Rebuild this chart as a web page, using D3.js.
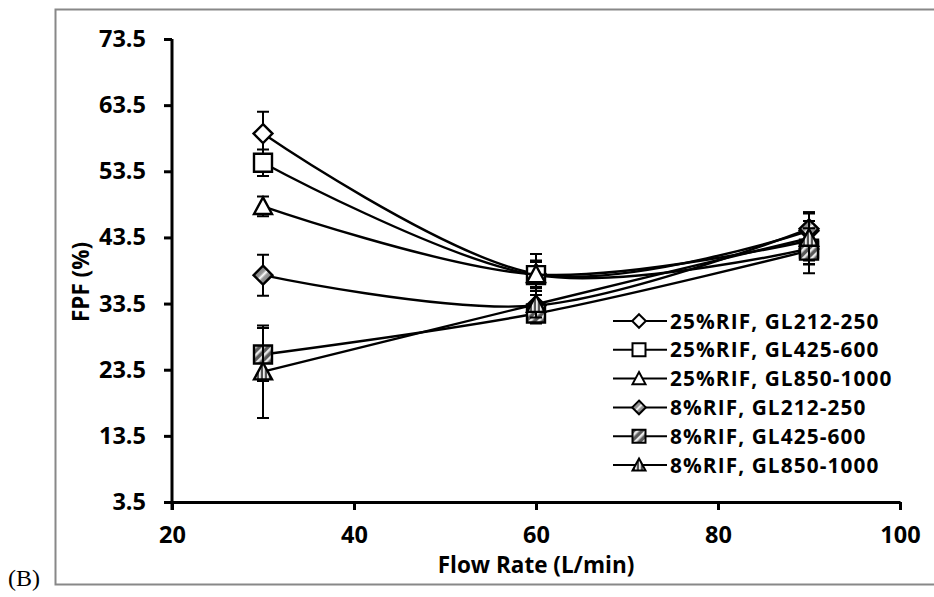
<!DOCTYPE html>
<html>
<head>
<meta charset="utf-8">
<script src="https://cdn.jsdelivr.net/npm/d3@7"></script>
<style>
  body { margin: 0; background: #fff; }
  svg { display: block; }
  .tick text { font-family: "Open Sans", sans-serif; font-weight: bold; }
</style>
</head>
<body>
<svg id="chart" width="934" height="597"></svg>
<script>
// flow rates (L/min)
var flowRates = [30, 60, 90];

var seriesNames = [
    "25%RIF, GL212-250",
    "25%RIF, GL425-600",
    "25%RIF, GL850-1000",
    "8%RIF, GL212-250",
    "8%RIF, GL425-600",
    "8%RIF, GL850-1000"
];

// FPF (%) for each series at 30, 60, 90 L/min
var fpf_25_212 = [59.2, 38.0, 44.5];
var fpf_25_425 = [54.8, 37.8, 41.8];
var fpf_25_850 = [48.2, 37.9, 43.0];
var fpf_8_212  = [37.8, 33.2, 44.8];
var fpf_8_425  = [25.8, 32.0, 41.5];
var fpf_8_850  = [23.2, 33.4, 43.4];

// error bars (+/-)
var err_25_212 = [3.3, 2.0, 2.6];
var err_25_425 = [2.0, 2.0, 2.4];
var err_25_850 = [1.5, 3.1, 3.0];
var err_8_212  = [3.1, 1.6, 2.5];
var err_8_425  = [4.0, 1.5, 3.4];
var err_8_850  = [7.0, 2.0, 3.9];

var yTicks = [3.5, 13.5, 23.5, 33.5, 43.5, 53.5, 63.5, 73.5];
var xTicks = [20, 40, 60, 80, 100];

var allValues = [fpf_25_212, fpf_25_425, fpf_25_850, fpf_8_212, fpf_8_425, fpf_8_850];
var allErrors = [err_25_212, err_25_425, err_25_850, err_8_212, err_8_425, err_8_850];
var shapes = ["diamond", "square", "triangle", "diamond", "square", "triangle"];
var fills = ["#fff", "#fff", "#fff", "url(#grad_d)", "url(#hatch_s)", "url(#stripe_t)"];

var st = seriesNames.map(function(name, i) {
    return {
        id: name,
        shape: shapes[i],
        fill: fills[i],
        values: flowRates.map(function(f, j) {
            return { flow: f, value: allValues[i][j], err: allErrors[i][j] };
        })
    };
});

var svg = d3.select("#chart");

// outer frame
svg.append("path")
    .attr("d", "M 935 9.5 H 55.5 V 584.5 H 935")
    .attr("fill", "none")
    .attr("stroke", "#888")
    .attr("stroke-width", 2);

svg.append("text")
    .attr("x", 8)
    .attr("y", 586)
    .style("font", "24px 'Liberation Serif', serif")
    .text("(B)");

// patterns for the hatched markers
var defs = svg.append("defs");
var gd = defs.append("linearGradient").attr("id", "grad_d")
    .attr("x1", "0").attr("y1", "0").attr("x2", "1").attr("y2", "1");
gd.append("stop").attr("offset", "0").attr("stop-color", "#555");
gd.append("stop").attr("offset", "0.42").attr("stop-color", "#9a9a9a");
gd.append("stop").attr("offset", "0.5").attr("stop-color", "#fff");
gd.append("stop").attr("offset", "0.58").attr("stop-color", "#9a9a9a");
gd.append("stop").attr("offset", "1").attr("stop-color", "#555");

var hs = defs.append("pattern").attr("id", "hatch_s")
    .attr("patternUnits", "userSpaceOnUse")
    .attr("width", 6).attr("height", 6)
    .attr("patternTransform", "rotate(45)");
hs.append("rect").attr("width", 6).attr("height", 6).attr("fill", "#5a5a5a");
hs.append("rect").attr("width", 2.5).attr("height", 6).attr("fill", "#e8e8e8");

var vt = defs.append("pattern").attr("id", "stripe_t")
    .attr("patternUnits", "userSpaceOnUse")
    .attr("width", 4).attr("height", 4);
vt.append("rect").attr("width", 4).attr("height", 4).attr("fill", "#555");
vt.append("rect").attr("width", 1.8).attr("height", 4).attr("fill", "#eee");

var margin = { top: 39, right: 34, bottom: 95, left: 172 },
    width = 900 - margin.left,
    height = 502 - margin.top,
    g = svg.append("g").attr("transform", "translate(" + margin.left + "," + margin.top + ")");

var x = d3.scaleLinear().domain([20, 100]).range([0, width]);
var y = d3.scaleLinear().domain([3.5, 73.5]).range([height, 0]);

var line = d3.line()
    .curve(d3.curveCatmullRom.alpha(0))
    .x(function(d) { return x(d.flow); })
    .y(function(d) { return y(d.value); });

function markerPath(shape, s) {
    var h = s / 2;
    if (shape == "diamond") {
        h = h * 1.05;
        return "M0," + (-h) + "L" + h + ",0L0," + h + "L" + (-h) + ",0Z";
    }
    if (shape == "square") {
        return "M" + (-h) + "," + (-h) + "H" + h + "V" + h + "H" + (-h) + "Z";
    }
    return "M0," + (-h) + "L" + h + "," + (h * 0.85) + "H" + (-h) + "Z";
}

// x axis
var xAxis = g.append("g")
    .attr("transform", "translate(0," + height + ")")
    .call(d3.axisBottom(x).tickValues(xTicks).tickSize(8).tickSizeOuter(0).tickPadding(16));
xAxis.select(".domain").attr("stroke-width", 3);
xAxis.selectAll(".tick line").attr("stroke-width", 3);
xAxis.selectAll(".tick text").style("font-size", "23.5px");

// y axis
var yAxis = g.append("g")
    .call(d3.axisLeft(y).tickValues(yTicks).tickFormat(d3.format(".1f"))
        .tickSize(8).tickSizeOuter(0).tickPadding(18));
yAxis.select(".domain").attr("stroke-width", 3).attr("d", "M0," + (height + 8) + "V0");
yAxis.selectAll(".tick line").attr("stroke-width", 3);
yAxis.selectAll(".tick text").style("font-size", "23.5px");

g.append("text")
    .attr("x", width / 2)
    .attr("y", height + 71)
    .attr("text-anchor", "middle")
    .style("font", "bold 22.5px 'Open Sans', sans-serif")
    .text("Flow Rate (L/min)");

g.append("text")
    .attr("transform", "translate(" + (89 - margin.left) + "," + (282 - margin.top) + ") rotate(-90)")
    .attr("text-anchor", "middle")
    .style("font", "bold 22.5px 'Open Sans', sans-serif")
    .text("FPF (%)");

var q = g.selectAll(".q")
    .data(st)
    .enter().append("g")
    .attr("class", "q");

// error bars
q.each(function(s) {
    var grp = d3.select(this);
    grp.selectAll(".err")
        .data(s.values)
        .enter().append("path")
        .attr("fill", "none")
        .attr("stroke", "#000")
        .attr("stroke-width", 2)
        .attr("d", function(d) {
            var cx = x(d.flow), y1 = y(d.value + d.err), y0 = y(d.value - d.err);
            return "M" + cx + "," + y0 + "V" + y1 +
                "M" + (cx - 6) + "," + y1 + "H" + (cx + 6) +
                "M" + (cx - 6) + "," + y0 + "H" + (cx + 6);
        });
});

q.append("path")
    .attr("fill", "none")
    .attr("stroke", "#000")
    .attr("stroke-width", 2.4)
    .attr("d", function(d) { return line(d.values); });

q.each(function(s) {
    d3.select(this).selectAll(".mk")
        .data(s.values)
        .enter().append("path")
        .attr("transform", function(d) { return "translate(" + x(d.flow) + "," + y(d.value) + ")"; })
        .attr("d", markerPath(s.shape, 18))
        .attr("fill", s.fill)
        .attr("stroke", "#000")
        .attr("stroke-width", 2.4);
});

// legend
var legend = svg.append("g").attr("transform", "translate(613,321)");
var lg = legend.selectAll(".lg")
    .data(st)
    .enter().append("g")
    .attr("transform", function(d, i) { return "translate(0," + (i * 28.8) + ")"; });
lg.append("line")
    .attr("x1", 0).attr("x2", 54)
    .attr("stroke", "#000").attr("stroke-width", 2);
lg.append("path")
    .attr("transform", "translate(26,0)")
    .attr("d", function(d) { return markerPath(d.shape, 13); })
    .attr("fill", function(d) { return d.fill; })
    .attr("stroke", "#000")
    .attr("stroke-width", 2);
lg.append("text")
    .attr("x", 57)
    .attr("dy", "0.36em")
    .style("font", "bold 20.8px 'Open Sans', sans-serif")
    .style("letter-spacing", "1.1px")
    .text(function(d) { return d.id; });
</script>
</body>
</html>
